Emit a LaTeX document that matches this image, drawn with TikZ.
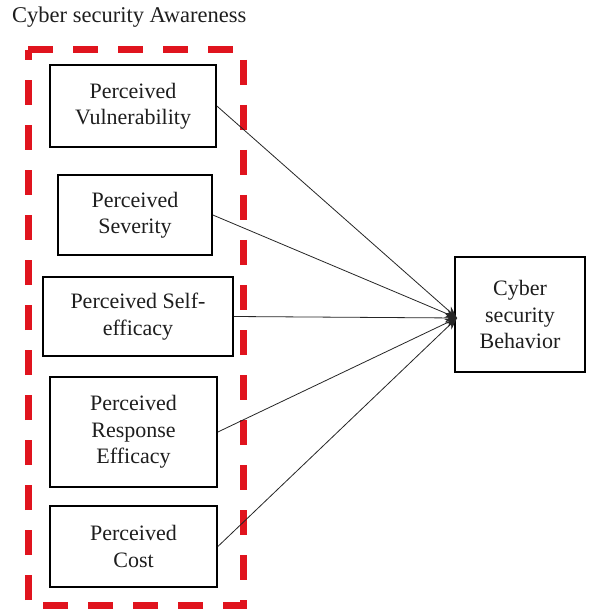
\documentclass[tikz,border=0pt]{standalone}
\usepackage{fontspec}
\setmainfont{Liberation Serif}
\usetikzlibrary{arrows.meta}
\definecolor{dashred}{HTML}{E0141E}
\definecolor{txt}{HTML}{1E1E1E}
\tikzset{
  factor/.style={draw=black, line width=1.7pt, fill=white, inner sep=0pt, align=center,
    text=txt, font=\fontsize{22}{26.5}\selectfont},
  link/.style={line width=0.8pt, draw=black!85, -{Stealth[length=12pt,width=9pt]}},
  frame/.style={draw=dashred, line width=7pt, dash pattern=on 25pt off 20pt}
}
\begin{document}
\begin{tikzpicture}[x=1pt,y=-1pt]
\useasboundingbox (0,0) rectangle (606,609);
\fill[white] (0,0) rectangle (606,609);
\node[anchor=base west, text=txt, font=\fontsize{22.5}{26}\selectfont, inner sep=0pt] (title) at (12,23) {Cyber security Awareness};
\draw[frame] (28,50) -- (243,50) -- (243,605) -- (28,605) -- cycle;
\node[factor, minimum width=166pt, minimum height=82pt] (b1) at (133,106) {Perceived\\Vulnerability};
\node[factor, minimum width=154pt, minimum height=80pt] (b2) at (135,215) {Perceived\\Severity};
\node[factor, minimum width=190pt, minimum height=79pt] (b3) at (138,316.5) {Perceived Self-\\efficacy};
\node[factor, minimum width=167pt, minimum height=110pt] (b4) at (133.5,432) {Perceived\\Response\\Efficacy};
\node[factor, minimum width=167pt, minimum height=81pt] (b5) at (133.5,546.5) {Perceived\\Cost};
\node[factor, minimum width=130pt, minimum height=115pt] (beh) at (520,314.5) {Cyber\\security\\Behavior};
\coordinate (tip) at (457,318);
\foreach \b in {b1,b2,b3,b4,b5} \draw[link] (\b.east) -- (tip);
\end{tikzpicture}
\end{document}
